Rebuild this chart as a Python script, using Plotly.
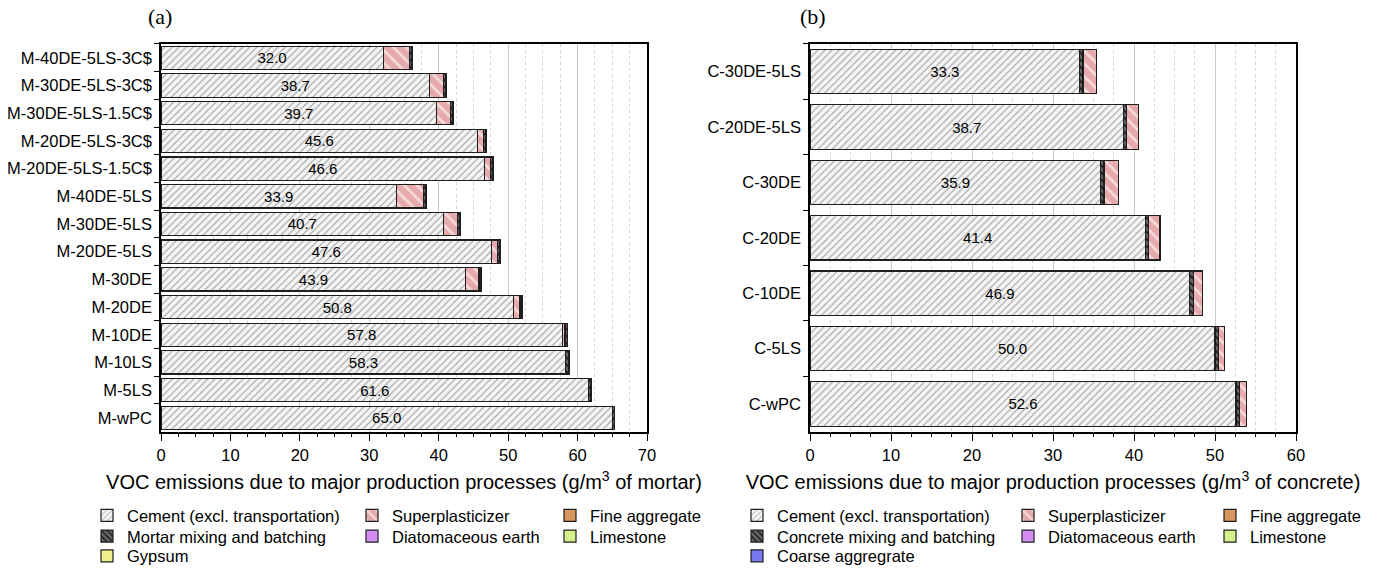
import plotly.graph_objects as go

# ---------------- data ----------------
mortar_mixes = ["M-40DE-5LS-3C$", "M-30DE-5LS-3C$", "M-30DE-5LS-1.5C$", "M-20DE-5LS-3C$",
                "M-20DE-5LS-1.5C$", "M-40DE-5LS", "M-30DE-5LS", "M-20DE-5LS", "M-30DE",
                "M-20DE", "M-10DE", "M-10LS", "M-5LS", "M-wPC"]
mortar_cement = [32.0, 38.7, 39.7, 45.6, 46.6, 33.9, 40.7, 47.6, 43.9, 50.8, 57.8, 58.3, 61.6, 65.0]
mortar_sp = [3.8, 2.0, 2.0, 0.8, 0.9, 3.9, 2.0, 0.9, 1.9, 0.9, 0.4, 0.0, 0.0, 0.0]
mortar_mixing = [0.3, 0.3, 0.3, 0.3, 0.3, 0.3, 0.3, 0.3, 0.3, 0.3, 0.3, 0.4, 0.3, 0.3]
mortar_fine = [0.1, 0.1, 0.1, 0.1, 0.1, 0.1, 0.1, 0.1, 0.1, 0.1, 0.1, 0.1, 0.1, 0.0]
mortar_de = [0.0] * 14
mortar_ls = [0.0] * 14
mortar_gypsum = [0.0] * 14

concrete_mixes = ["C-30DE-5LS", "C-20DE-5LS", "C-30DE", "C-20DE", "C-10DE", "C-5LS", "C-wPC"]
concrete_cement = [33.3, 38.7, 35.9, 41.4, 46.9, 50.0, 52.6]
concrete_mixing = [0.4, 0.4, 0.4, 0.4, 0.4, 0.4, 0.4]
concrete_sp = [1.7, 1.5, 1.8, 1.4, 1.2, 0.8, 0.9]
concrete_fine = [0.0] * 7
concrete_de = [0.0] * 7
concrete_ls = [0.0] * 7
concrete_coarse = [0.0] * 7

mortar_ticks = [0, 10, 20, 30, 40, 50, 60, 70]
concrete_ticks = [0, 10, 20, 30, 40, 50, 60]

# ---------------- styles ----------------
FONT = "Liberation Sans, Arial, sans-serif"
LINE = dict(color="#1e1e1e", width=1.2)

def pat(shape, fg, bg, size, sol):
    return dict(shape=shape, fgcolor=fg, bgcolor=bg, size=size, solidity=sol, fillmode="replace")

STY = {
    "cement": dict(color="#f3f3f3", pattern=pat("/", "#9a9a9a", "#f4f4f4", 5, 0.2)),
    "sp": dict(color="#e8b0b2", pattern=pat("\\", "#f7dada", "#e6aaac", 9, 0.3)),
    "mix": dict(color="#555555", pattern=pat("\\", "#1a1a1a", "#666666", 5, 0.35)),
    "fine": dict(color="#d8955c"),
    "de": dict(color="#d58cf2"),
    "ls": dict(color="#d6f08c"),
    "gyp": dict(color="#eef08a"),
    "coarse": dict(color="#7878f2"),
}

fig = go.Figure()

def add(x, y, name, key, xa, ya, legend, width, text=None):
    m = dict(STY[key])
    m["line"] = LINE
    kw = {}
    if text is not None:
        kw = dict(text=text, textposition="inside", insidetextanchor="middle",
                  textangle=0, textfont=dict(family=FONT, size=15, color="black"),
                  constraintext="none")
    fig.add_trace(go.Bar(x=x, y=y, orientation="h", name=name, marker=m,
                         xaxis=xa, yaxis=ya, legend=legend, width=width, showlegend=True,
                         hoverinfo="skip", **kw))

# panel (a)
wa = 0.84
add(mortar_cement, mortar_mixes, "Cement (excl. transportation)", "cement", "x", "y", "legend", wa,
    text=[f"{v:.1f}" for v in mortar_cement])
add(mortar_sp, mortar_mixes, "Superplasticizer", "sp", "x", "y", "legend2", wa)
add(mortar_mixing, mortar_mixes, "Mortar mixing and batching", "mix", "x", "y", "legend4", wa)
add(mortar_fine, mortar_mixes, "Fine aggregate", "fine", "x", "y", "legend3", wa)
add(mortar_de, mortar_mixes, "Diatomaceous earth", "de", "x", "y", "legend5", wa)
add(mortar_ls, mortar_mixes, "Limestone", "ls", "x", "y", "legend6", wa)
add(mortar_gypsum, mortar_mixes, "Gypsum", "gyp", "x", "y", "legend7", wa)

# panel (b)
wb = 0.8
add(concrete_cement, concrete_mixes, "Cement (excl. transportation)", "cement", "x2", "y2", "legend8", wb,
    text=[f"{v:.1f}" for v in concrete_cement])
add(concrete_mixing, concrete_mixes, "Concrete mixing and batching", "mix", "x2", "y2", "legend11", wb)
add(concrete_sp, concrete_mixes, "Superplasticizer", "sp", "x2", "y2", "legend9", wb)
add(concrete_fine, concrete_mixes, "Fine aggregate", "fine", "x2", "y2", "legend10", wb)
add(concrete_de, concrete_mixes, "Diatomaceous earth", "de", "x2", "y2", "legend12", wb)
add(concrete_ls, concrete_mixes, "Limestone", "ls", "x2", "y2", "legend13", wb)
add(concrete_coarse, concrete_mixes, "Coarse aggregrate", "coarse", "x2", "y2", "legend14", wb)

W, H = 1382, 574

def xaxis(domain, rng, ticks, title):
    return dict(domain=domain, range=rng, tickvals=ticks, ticks="outside", ticklen=8, tickwidth=1.2,
                tickcolor="black", showline=True, linecolor="black", linewidth=1.5, mirror=True,
                showgrid=True, gridcolor="#c9c9c9", gridwidth=1, zeroline=False, automargin=False,
                minor=dict(dtick=2.5, ticks="outside", ticklen=4, tickcolor="black",
                           showgrid=True, gridcolor="#d6d6d6", griddash="dot"),
                tickfont=dict(family=FONT, size=16.5, color="black"),
                title=dict(text=title, font=dict(family=FONT, size=20, color="black"), standoff=12))

def yaxis(anchor, cats, domain):
    n = len(cats)
    return dict(anchor=anchor, domain=domain, type="category", categoryorder="array", categoryarray=cats,
                range=[n - 0.5, -0.5], tickson="boundaries", ticks="outside", ticklen=5,
                ticklabelstandoff=4, automargin=False,
                tickcolor="black", showline=True, linecolor="black", linewidth=1.5, mirror=True,
                showgrid=False, tickfont=dict(family=FONT, size=16.5, color="black"))

ydom = [1 - 437 / H, 1 - 44.5 / H]
layout = dict(
    width=W, height=H, margin=dict(l=0, r=0, t=0, b=0), showlegend=True,
    paper_bgcolor="white", plot_bgcolor="white", barmode="stack",
    font=dict(family=FONT, color="black"),
    xaxis=xaxis([161 / W, 647 / W], [0, 70], mortar_ticks,
                "VOC emissions due to major production processes (g/m<sup>3</sup> of mortar)"),
    yaxis=yaxis("x", mortar_mixes, ydom),
    xaxis2=xaxis([810 / W, 1296 / W], [0, 60], concrete_ticks,
                 "VOC emissions due to major production processes (g/m<sup>3</sup> of concrete)"),
    yaxis2=yaxis("x2", concrete_mixes, ydom),
    annotations=[
        dict(text="(a)", x=160 / W, y=1 - 17 / H, xref="paper", yref="paper", showarrow=False,
             xanchor="center", yanchor="middle",
             font=dict(family="Liberation Serif, Times New Roman, serif", size=22, color="black")),
        dict(text="(b)", x=813 / W, y=1 - 17 / H, xref="paper", yref="paper", showarrow=False,
             xanchor="center", yanchor="middle",
             font=dict(family="Liberation Serif, Times New Roman, serif", size=22, color="black")),
    ],
)

# legend placement: (text start x px, row y px)
rows = [522, 543, 563]
leg_pos = {
    "legend": (127, rows[0]), "legend2": (392, rows[0]), "legend3": (590, rows[0]),
    "legend4": (127, rows[1]), "legend5": (392, rows[1]), "legend6": (590, rows[1]),
    "legend7": (127, rows[2]),
    "legend8": (777, rows[0]), "legend9": (1048, rows[0]), "legend10": (1250, rows[0]),
    "legend11": (777, rows[1]), "legend12": (1048, rows[1]), "legend13": (1250, rows[1]),
    "legend14": (777, rows[2]),
}
for k, (tx, ty) in leg_pos.items():
    layout[k] = dict(x=(tx - 40) / W, y=1 - ty / H, xanchor="left", yanchor="middle",
                     bgcolor="rgba(0,0,0,0)", borderwidth=0, visible=True,
                     font=dict(family=FONT, size=16.5, color="black"))

fig.update_layout(**layout)
fig.write_html("out.html")
